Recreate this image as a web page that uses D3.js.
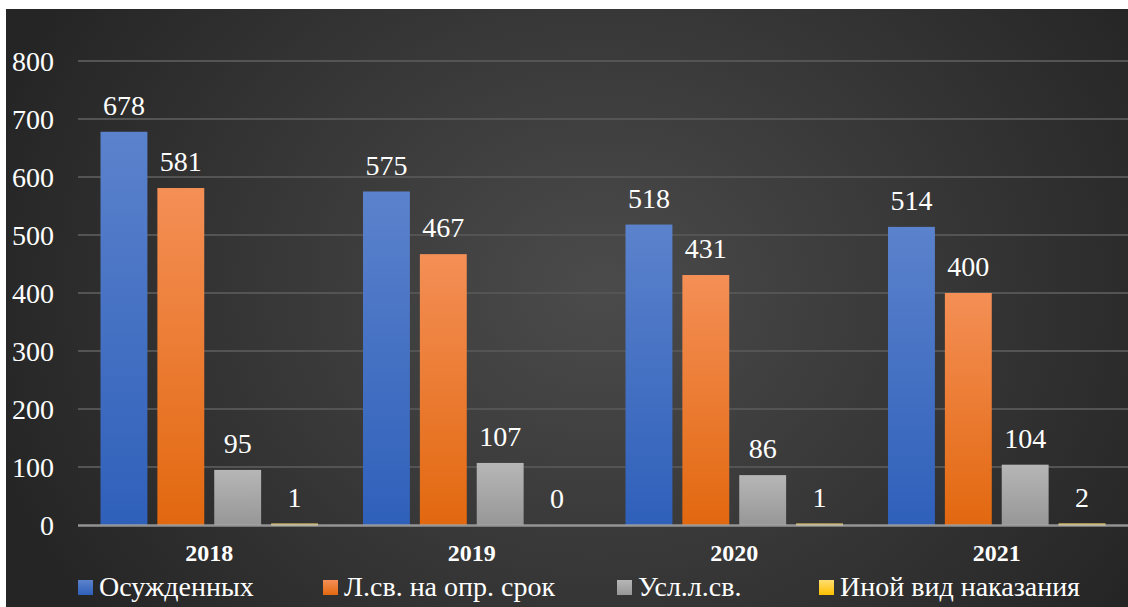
<!DOCTYPE html>
<html>
<head>
<meta charset="utf-8">
<script src="https://cdn.jsdelivr.net/npm/d3@7"></script>
<style>
  html, body { margin: 0; padding: 0; background: #ffffff; }
  svg { display: block; }
  svg text { font-family: "Liberation Serif", "Times New Roman", "DejaVu Serif", serif; }
</style>
</head>
<body>
<svg id="chart" width="1128" height="607"></svg>
<script>
// Sentencing statistics by year
const years = ["2018", "2019", "2020", "2021"];
const seriesNames = ["Осужденных", "Л.св. на опр. срок", "Усл.л.св.", "Иной вид наказания"];
const convicted = [678, 575, 518, 514];
const imprisonment = [581, 467, 431, 400];
const probation = [95, 107, 86, 104];
const otherPenalty = [1, 0, 1, 2];
const yTicks = [0, 100, 200, 300, 400, 500, 600, 700, 800];

const seriesValues = [convicted, imprisonment, probation, otherPenalty];
const seriesColors = [
  ["#5b82cc", "#2f60ba"],
  ["#f48f56", "#e2680f"],
  ["#b6b6b6", "#979797"],
  ["#ffdd70", "#ffc000"]
];

const svg = d3.select("#chart");
const W = 1128, H = 607;
const font = '"Liberation Serif", "Times New Roman", "DejaVu Serif", serif';

const defs = svg.append("defs");
const bg = defs.append("radialGradient")
  .attr("id", "bg").attr("gradientUnits", "userSpaceOnUse")
  .attr("cx", 600).attr("cy", 290).attr("r", 640)
  .attr("gradientTransform", "translate(600,290) scale(1,0.85) translate(-600,-290)");
bg.append("stop").attr("offset", "0%").attr("stop-color", "#4b4b4b");
bg.append("stop").attr("offset", "100%").attr("stop-color", "#252525");

seriesColors.forEach((c, i) => {
  const g = defs.append("linearGradient").attr("id", "bar" + i)
    .attr("x1", 0).attr("y1", 0).attr("x2", 0).attr("y2", 1);
  g.append("stop").attr("offset", "0%").attr("stop-color", c[0]);
  g.append("stop").attr("offset", "100%").attr("stop-color", c[1]);
});

// Chart area background
svg.append("rect").attr("x", 6).attr("y", 9).attr("width", W - 6).attr("height", H - 9)
  .attr("fill", "url(#bg)");

const plotLeft = 78, plotRight = 1128;
const y = d3.scaleLinear().domain([0, 800]).range([525, 61]);
const x0 = d3.scaleBand().domain(years).range([plotLeft, plotRight]).paddingInner(0).paddingOuter(0);
const x1 = d3.scaleBand().domain(d3.range(4)).range([22.5, x0.bandwidth() - 22.5]).paddingInner(10 / 57);

// Gridlines
svg.append("g").selectAll("line").data(yTicks.filter(d => d > 0)).join("line")
  .attr("x1", plotLeft).attr("x2", plotRight)
  .attr("y1", d => y(d)).attr("y2", d => y(d))
  .attr("stroke", "#545454").attr("stroke-width", 2);

// Y axis labels
const yAxis = d3.axisLeft(y).tickValues(yTicks).tickSize(0).tickPadding(0);
const yg = svg.append("g").attr("transform", "translate(54,0)").call(yAxis);
yg.attr("font-family", null);
yg.select(".domain").remove();
yg.selectAll("text").attr("fill", "#ffffff").style("font-family", font)
  .style("font-size", "28px").attr("dy", "0.34em");

// Bars
const groups = svg.append("g").selectAll("g").data(years).join("g")
  .attr("transform", d => `translate(${x0(d)},0)`);

groups.selectAll("rect").data((d, i) => seriesValues.map((s, k) => ({ k, v: s[i] }))).join("rect")
  .attr("x", d => x1(d.k)).attr("width", x1.bandwidth())
  .attr("y", d => y(d.v)).attr("height", d => y(0) - y(d.v))
  .attr("fill", d => `url(#bar${d.k})`);

// Baseline
svg.append("line").attr("x1", plotLeft).attr("x2", plotRight)
  .attr("y1", y(0) + 0.5).attr("y2", y(0) + 0.5)
  .attr("stroke", "#a6a6a6").attr("stroke-width", 2.5).attr("opacity", 0.85);

// Tiny bars drawn above the baseline so they stay visible
groups.selectAll("rect.small").data((d, i) => seriesValues.map((s, k) => ({ k, v: s[i] })).filter(d => d.v > 0 && d.v < 5))
  .join("rect").attr("class", "small")
  .attr("x", d => x1(d.k)).attr("width", x1.bandwidth())
  .attr("y", y(0) - 1.5).attr("height", 2.5)
  .attr("fill", d => seriesColors[d.k][0]);

// Value labels
groups.selectAll("text.val").data((d, i) => seriesValues.map((s, k) => ({ k, v: s[i] }))).join("text")
  .attr("class", "val")
  .attr("x", d => x1(d.k) + x1.bandwidth() / 2)
  .attr("y", d => y(d.v) - 17)
  .attr("text-anchor", "middle").attr("fill", "#ffffff")
  .style("font-family", font).style("font-size", "28px")
  .text(d => d.v);

// Category labels
const xAxis = d3.axisBottom(x0).tickSize(0).tickPadding(0);
const xg = svg.append("g").attr("transform", "translate(0,561)").call(xAxis);
xg.attr("font-family", null);
xg.select(".domain").remove();
xg.selectAll("text").attr("fill", "#ffffff").style("font-family", font)
  .style("font-size", "24px").style("font-weight", "bold").attr("dy", 0);

// Legend
const legendX = [78, 323, 617, 819];
const legend = svg.append("g").selectAll("g").data(seriesNames).join("g")
  .attr("transform", (d, i) => `translate(${legendX[i]},580)`);
legend.append("rect").attr("width", 15).attr("height", 15)
  .attr("fill", (d, i) => `url(#bar${i})`);
legend.append("text").attr("x", 21).attr("y", 16)
  .attr("fill", "#ffffff").style("font-family", font).style("font-size", "28px")
  .text(d => d);
</script>
</body>
</html>
